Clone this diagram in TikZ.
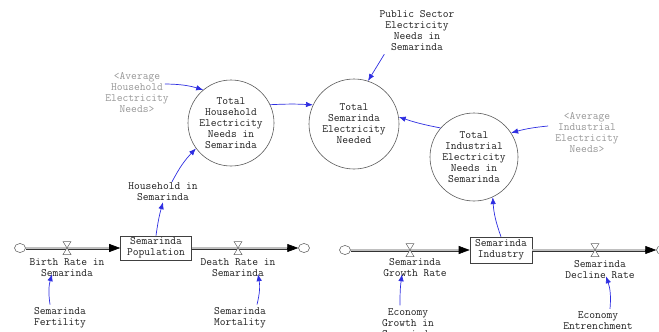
\documentclass[tikz,border=0pt]{standalone}
\usepackage{fontspec}
\usetikzlibrary{arrows.meta,calc,shapes.geometric}
\definecolor{connblue}{RGB}{45,45,225}
\definecolor{shadowgray}{RGB}{150,150,150}
\definecolor{txt}{RGB}{30,30,30}
\tikzset{
  valvepic/.pic={\draw[black!60, fill=white, line width=0.5pt] (-4,-6.5) -- (4,-6.5) -- (-4,6.5) -- (4,6.5) -- cycle;}
}
\begin{document}
\begin{tikzpicture}[x=1pt,y=-1pt,
  every node/.style={font=\ttfamily\fontsize{11.2}{11}\selectfont, align=center, inner sep=1pt, text=txt},
  shadowlbl/.style={text=shadowgray},
  auxc/.style={circle, draw=black!65, line width=0.6pt, minimum size=#1, inner sep=0pt},
  stockbox/.style={draw=black!75, line width=0.6pt, minimum width=#1, minimum height=24pt, inner sep=0pt},
  cloudnode/.style={ellipse, draw=black!65, line width=0.5pt, minimum width=11pt, minimum height=9pt, inner sep=0pt},
  conn/.style={draw=connblue, line width=0.7pt, -{Latex[length=7pt,width=5.5pt]}},
  pipe/.style={draw=black!80, line width=0.6pt, double=black!25, double distance=1.8pt},
  pipetip/.style={draw=black, line width=0.6pt, -{Triangle[length=11pt,width=8pt]}}
]
\useasboundingbox (0,0) rectangle (659,332);
\clip (0,0) rectangle (659,332);

% circles (auxiliaries)
\node[auxc=86pt] (hh) at (231,123) {Total\\Household\\Electricity\\Needs in\\Semarinda};
\node[auxc=90pt] (tot) at (354,124) {Total\\Semarinda\\Electricity\\Needed};
\node[auxc=88pt] (ind) at (474,157) {Total\\Industrial\\Electricity\\Needs in\\Semarinda};

% labels
\node (pub) at (417,31) {Public Sector\\Electricity\\Needs in\\Semarinda};
\node[shadowlbl] (avgH) at (137,93) {<Average\\Household\\Electricity\\Needs>};
\node[shadowlbl] (avgI) at (587,133) {<Average\\Industrial\\Electricity\\Needs>};
\node (hhin) at (163,192) {Household in\\Semarinda};

% stocks
\node[stockbox=71pt] (pop) at (156,248) {Semarinda\\Population};
\node[stockbox=62pt, minimum height=26pt] (indbox) at (501,250) {Semarinda\\Industry};

% clouds
\node[cloudnode] (cL1) at (20,248) {};
\node[cloudnode] (cR1) at (304,248) {};
\node[cloudnode] (cL2) at (345,250) {};
\node[cloudnode] (cR2) at (662,250) {};

% valves
\coordinate (vBirth) at (67,248);
\coordinate (vDeath) at (238,248);
\coordinate (vGrowth) at (410,250);
\coordinate (vDecline) at (595,250);

% flows
\draw[pipe] (cL1.east) -- ($(pop.west)+(-10,0)$);
\draw[pipetip] ($(pop.west)+(-11,0)$) -- (pop.west);
\draw[pipe] (pop.east) -- ($(cR1.west)+(-10,0)$);
\draw[pipetip] ($(cR1.west)+(-11,0)$) -- (cR1.west);
\draw[pipe] (cL2.east) -- ($(indbox.west)+(-10,0)$);
\draw[pipetip] ($(indbox.west)+(-11,0)$) -- (indbox.west);
\draw[pipe] (indbox.east) -- ($(cR2.west)+(-10,0)$);
\draw[pipetip] ($(cR2.west)+(-11,0)$) -- (cR2.west);

\pic at (vBirth) {valvepic};
\pic at (vDeath) {valvepic};
\pic at (vGrowth) {valvepic};
\pic at (vDecline) {valvepic};

% rate labels
\node (birthL) at (67,268) {Birth Rate in\\Semarinda};
\node (deathL) at (238,268) {Death Rate in\\Semarinda};
\node (growthL) at (415,268) {Semarinda\\Growth Rate};
\node (declineL) at (600,270) {Semarinda\\Decline Rate};

% constants at bottom
\node (fert) at (60,318) {Semarinda\\Fertility};
\node (mort) at (240,318) {Semarinda\\Mortality};
\node (econG) at (408,323) {Economy\\Growth in\\Semarinda};
\node (econE) at (598,321) {Economy\\Entrenchment};

% connectors
\draw[conn] ($(avgH.east)+(-5,-9)$) to[bend left=8] (hh.130);
\draw[conn] (hh.25) to[bend left=3] (tot.155);
\draw[conn] ($(pub.south west)+(6,2)$) -- (tot.72);
\draw[conn] (ind.139) to[bend left=4] (tot.9);
\draw[conn] ($(avgI.west)+(-6,-7)$) to[bend left=-5] (ind.33);
\draw[conn] ($(hhin.north)+(9,0)$) to[bend left=8] (hh.216);
\draw[conn] (pop.north) to[bend left=4] (hhin.south);
\draw[conn] (indbox.north) to[bend left=8] (ind.295);
\draw[conn] ($(fert.north)+(-10,-2)$) to[bend left=12] ($(birthL.south)+(-15,-4)$);
\draw[conn] ($(mort.north)+(17,-2)$) to[bend right=12] ($(deathL.south)+(20,-4)$);
\draw[conn] ($(econG.north)+(-8,-2)$) to[bend left=4] ($(growthL.south)+(-13,-4)$);
\draw[conn] ($(econE.north)+(12,-2)$) to[bend right=12] ($(declineL.south)+(6,-4)$);
\end{tikzpicture}
\end{document}
